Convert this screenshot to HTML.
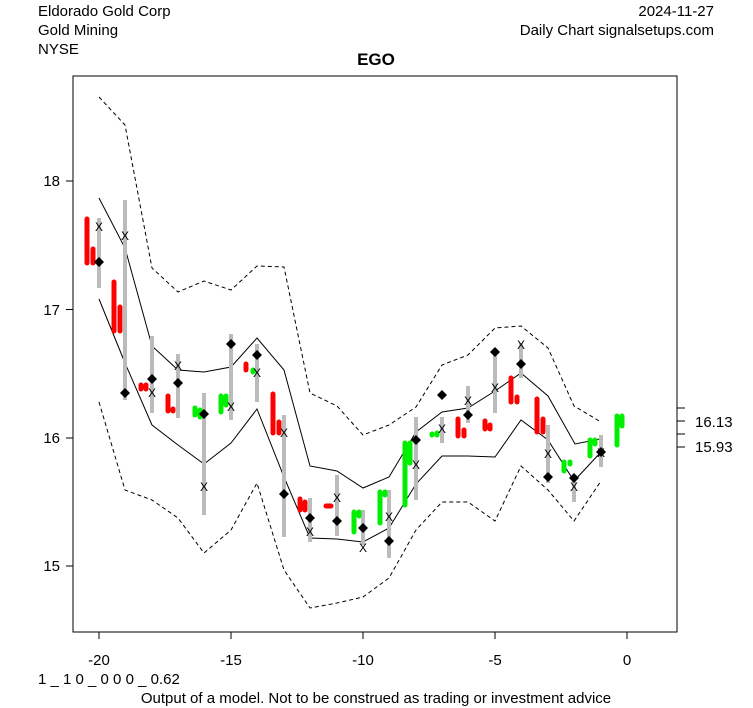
<!DOCTYPE html><html><head><style>body{margin:0;background:#fff}svg{display:block;font-family:"Liberation Sans",sans-serif}</style></head><body>
<svg width="753" height="708" xmlns="http://www.w3.org/2000/svg">
<rect width="753" height="708" fill="#fff"/>
<g font-size="15" fill="#000">
<text x="38" y="16">Eldorado Gold Corp</text><text x="38" y="35">Gold Mining</text><text x="38" y="54">NYSE</text>
<text x="714" y="16" text-anchor="end">2024-11-27</text><text x="714" y="35" text-anchor="end">Daily Chart signalsetups.com</text>
<text x="376" y="65" text-anchor="middle" font-weight="bold" font-size="17">EGO</text>
<text x="38" y="684">1 _ 1 0 _ 0 0 0 _ 0.62</text>
<text x="376" y="703" text-anchor="middle">Output of a model. Not to be construed as trading or investment advice</text>
</g>
<rect x="73" y="76" width="604" height="556" fill="none" stroke="#000"/>
<g stroke="#000"><line x1="73" y1="181" x2="66" y2="181"/><line x1="73" y1="309.5" x2="66" y2="309.5"/><line x1="73" y1="438" x2="66" y2="438"/><line x1="73" y1="566" x2="66" y2="566"/>
<line x1="99" y1="632" x2="99" y2="639"/><line x1="231" y1="632" x2="231" y2="639"/><line x1="363" y1="632" x2="363" y2="639"/><line x1="495" y1="632" x2="495" y2="639"/><line x1="627" y1="632" x2="627" y2="639"/>
<line x1="677" y1="408" x2="685" y2="408"/><line x1="677" y1="421" x2="685" y2="421"/><line x1="677" y1="434" x2="685" y2="434"/><line x1="677" y1="447" x2="685" y2="447"/></g>
<g font-size="15" text-anchor="end"><text x="60" y="186">18</text><text x="60" y="315">17</text><text x="60" y="443">16</text><text x="60" y="571">15</text></g>
<g font-size="15" text-anchor="middle"><text x="99" y="665">-20</text><text x="231" y="665">-15</text><text x="363" y="665">-10</text><text x="495" y="665">-5</text><text x="627" y="665">0</text></g>
<g font-size="15"><text x="695" y="427">16.13</text><text x="695" y="452">15.93</text></g>
<g fill="none" stroke="#000" stroke-width="1">
<polyline points="99,198 125,248 152,346 178,370 204,372 231,367 257,338 284,370 310,466 337,471 363,488 389,477 416,432 442,412 468,408 495,391 521,373 548,396 575,444 600,439"/>
<polyline points="99,299 125,363 152,425 178,445 204,464 231,443 257,409 284,477 310,538 337,539 363,542 389,528 416,484 442,456 468,456 495,457 521,420 548,440 574,481 601,452"/>
<g stroke-dasharray="4,3"><polyline points="99,97 125,125 152,268 178,292 204,281 231,290 257,266 284,267 310,393 337,406 363,435 389,425 416,407 442,365 468,355 495,328 521,326 548,348 574,406 601,422"/>
<polyline points="99,402 125,490 152,500 178,518 204,553 231,530 257,483 284,570 310,608 337,603 363,597 389,578 416,530 442,502 468,502 495,521 521,466 548,490 574,521 601,481"/></g></g>
<g stroke="#bbb" stroke-width="4">
<line x1="99" y1="218" x2="99" y2="288"/><line x1="125" y1="200" x2="125" y2="400"/><line x1="152" y1="336" x2="152" y2="413"/><line x1="178" y1="354" x2="178" y2="418"/><line x1="204" y1="393" x2="204" y2="515"/><line x1="231" y1="334" x2="231" y2="420"/><line x1="257" y1="344" x2="257" y2="402"/><line x1="284" y1="415" x2="284" y2="537"/><line x1="310" y1="498" x2="310" y2="542"/><line x1="337" y1="475" x2="337" y2="536"/><line x1="363" y1="510" x2="363" y2="545"/><line x1="389" y1="490" x2="389" y2="558"/><line x1="416" y1="417" x2="416" y2="500"/><line x1="442" y1="417" x2="442" y2="443"/><line x1="468" y1="386" x2="468" y2="423"/><line x1="495" y1="352" x2="495" y2="413"/><line x1="521" y1="343" x2="521" y2="378"/><line x1="548" y1="425" x2="548" y2="483"/><line x1="574" y1="478" x2="574" y2="502"/><line x1="601" y1="435" x2="601" y2="467"/></g>
<g stroke-width="5" stroke-linecap="round">
<g stroke="#f00"><line x1="87" y1="219" x2="87" y2="263"/><line x1="93" y1="249" x2="93" y2="263"/><line x1="114" y1="282" x2="114" y2="331"/><line x1="120" y1="307" x2="120" y2="331"/><line x1="141" y1="385" x2="141" y2="389"/><line x1="146" y1="385" x2="146" y2="389"/><line x1="168" y1="396" x2="168" y2="411"/><line x1="173" y1="409" x2="173" y2="411"/><line x1="246" y1="364" x2="246" y2="370"/><line x1="273" y1="394" x2="273" y2="433"/><line x1="279" y1="422" x2="279" y2="433"/><line x1="300" y1="499" x2="300" y2="510"/><line x1="305" y1="502" x2="305" y2="510"/><line x1="326" y1="506" x2="331" y2="506"/><line x1="458" y1="419" x2="458" y2="436"/><line x1="464" y1="430" x2="464" y2="436"/><line x1="485" y1="421" x2="485" y2="429"/><line x1="490" y1="425" x2="490" y2="429"/><line x1="511" y1="378" x2="511" y2="402"/><line x1="517" y1="397" x2="517" y2="402"/><line x1="537" y1="399" x2="537" y2="432"/><line x1="543" y1="419" x2="543" y2="432"/></g>
<g stroke="#0e0"><line x1="195" y1="408" x2="195" y2="415"/><line x1="200" y1="410" x2="200" y2="417"/><line x1="221" y1="396" x2="221" y2="412"/><line x1="226" y1="396" x2="226" y2="405"/><line x1="253" y1="370" x2="253" y2="372"/><line x1="354" y1="512" x2="354" y2="532"/><line x1="359" y1="512" x2="359" y2="516"/><line x1="380" y1="492" x2="380" y2="523"/><line x1="385" y1="492" x2="385" y2="495"/><line x1="405" y1="443" x2="405" y2="505"/><line x1="410" y1="443" x2="410" y2="463"/><line x1="432" y1="434" x2="432" y2="435"/><line x1="437" y1="433" x2="437" y2="435"/><line x1="564" y1="462" x2="564" y2="471"/><line x1="570" y1="462" x2="570" y2="464"/><line x1="590" y1="440" x2="590" y2="456"/><line x1="595" y1="440" x2="595" y2="444"/><line x1="617" y1="416" x2="617" y2="445"/><line x1="622" y1="416" x2="622" y2="426"/></g></g>
<g fill="#000">
<path d="M99,257l5,5-5,5-5-5z"/><path d="M125,388l5,5-5,5-5-5z"/><path d="M152,374l5,5-5,5-5-5z"/><path d="M178,378l5,5-5,5-5-5z"/><path d="M204,409l5,5-5,5-5-5z"/><path d="M231,339l5,5-5,5-5-5z"/><path d="M257,350l5,5-5,5-5-5z"/><path d="M284,489l5,5-5,5-5-5z"/><path d="M310,513l5,5-5,5-5-5z"/><path d="M337,516l5,5-5,5-5-5z"/><path d="M363,523l5,5-5,5-5-5z"/><path d="M389,536l5,5-5,5-5-5z"/><path d="M416,435l5,5-5,5-5-5z"/><path d="M442,390l5,5-5,5-5-5z"/><path d="M468,410l5,5-5,5-5-5z"/><path d="M495,347l5,5-5,5-5-5z"/><path d="M521,359l5,5-5,5-5-5z"/><path d="M548,472l5,5-5,5-5-5z"/><path d="M574,473l5,5-5,5-5-5z"/><path d="M601,447l5,5-5,5-5-5z"/></g>
<g font-size="12" text-anchor="middle" fill="#000">
<text x="99" y="231">X</text><text x="125" y="240">X</text><text x="152" y="397">X</text><text x="178" y="370">X</text><text x="204" y="491">X</text><text x="231" y="411">X</text><text x="257" y="377">X</text><text x="284" y="437">X</text><text x="310" y="536">X</text><text x="337" y="502">X</text><text x="363" y="552">X</text><text x="389" y="521">X</text><text x="416" y="469">X</text><text x="442" y="433">X</text><text x="468" y="405">X</text><text x="495" y="392">X</text><text x="521" y="349">X</text><text x="548" y="458">X</text><text x="574" y="491">X</text><text x="601" y="457">X</text></g>
</svg></body></html>
